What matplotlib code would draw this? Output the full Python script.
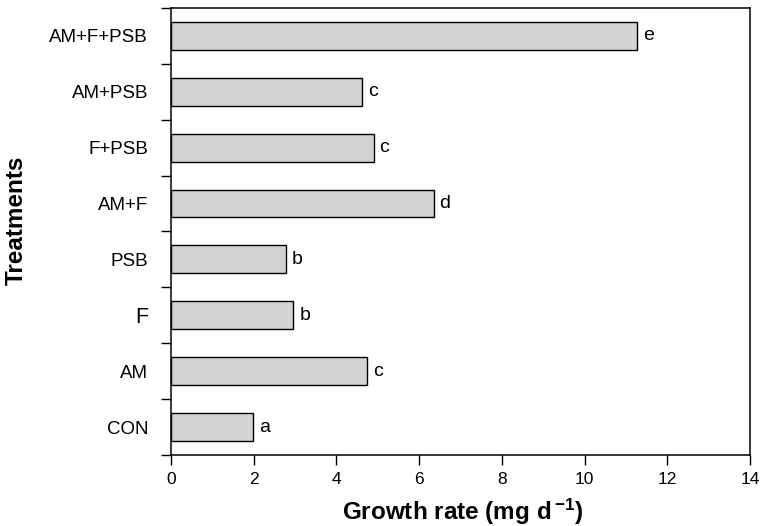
import numpy as np
import matplotlib
matplotlib.use('Agg')
import matplotlib.pyplot as plt
from matplotlib.ticker import FixedLocator

plt.rcParams['font.family'] = ['Liberation Sans', 'DejaVu Sans']
plt.rcParams['mathtext.fontset'] = 'custom'
plt.rcParams['mathtext.rm'] = 'Liberation Sans'
plt.rcParams['mathtext.bf'] = 'Liberation Sans:bold'

# data, bottom to top
treatments = ['CON', 'AM', 'F', 'PSB', 'AM+F', 'F+PSB', 'AM+PSB', 'AM+F+PSB']
growth = [1.99, 4.75, 2.96, 2.78, 6.35, 4.90, 4.62, 11.27]
letters = ['a', 'c', 'b', 'b', 'd', 'c', 'c', 'e']

fig = plt.figure(figsize=(7.61, 5.26), dpi=100)
ax = fig.add_axes([0.2247, 0.135, 0.7608, 0.8500])

y = np.arange(len(treatments))
ax.barh(y, growth, height=0.5, color='#d3d3d3', edgecolor='black', linewidth=1.0)

for yi, v, l in zip(y, growth, letters):
    ax.text(v + 0.14, yi, l, va='center', ha='left', fontsize=14)

ax.set_xlim(0, 14)
ax.set_ylim(-0.5, len(treatments) - 0.5)
ax.set_xticks(np.arange(0, 15, 2))
ax.set_yticks(y)
ax.set_yticklabels(treatments)
for lab in ax.get_yticklabels():
    lab.set_fontsize(15.5 if lab.get_text() == 'F' else 13.5)
ax.yaxis.set_minor_locator(FixedLocator(np.arange(-0.5, len(treatments), 1)))
ax.tick_params(axis='y', which='major', length=0, pad=16.5)
ax.tick_params(axis='y', which='minor', length=7, width=1, direction='out')
ax.tick_params(axis='x', labelsize=12.5, length=7, width=1, direction='out', pad=5)

for s in ax.spines.values():
    s.set_linewidth(1.1)

# axis titles placed by hand like the original
fig.text(0.608, 0.012, r'Growth rate (mg d$\,\mathbf{^{-1}}$)', fontsize=17.5,
         fontweight='bold', ha='center', va='baseline')
fig.text(0.022, 0.582, 'Treatments', fontsize=17.5, fontweight='bold',
         rotation=90, ha='center', va='center')

fig.savefig('out.png', dpi=100)
